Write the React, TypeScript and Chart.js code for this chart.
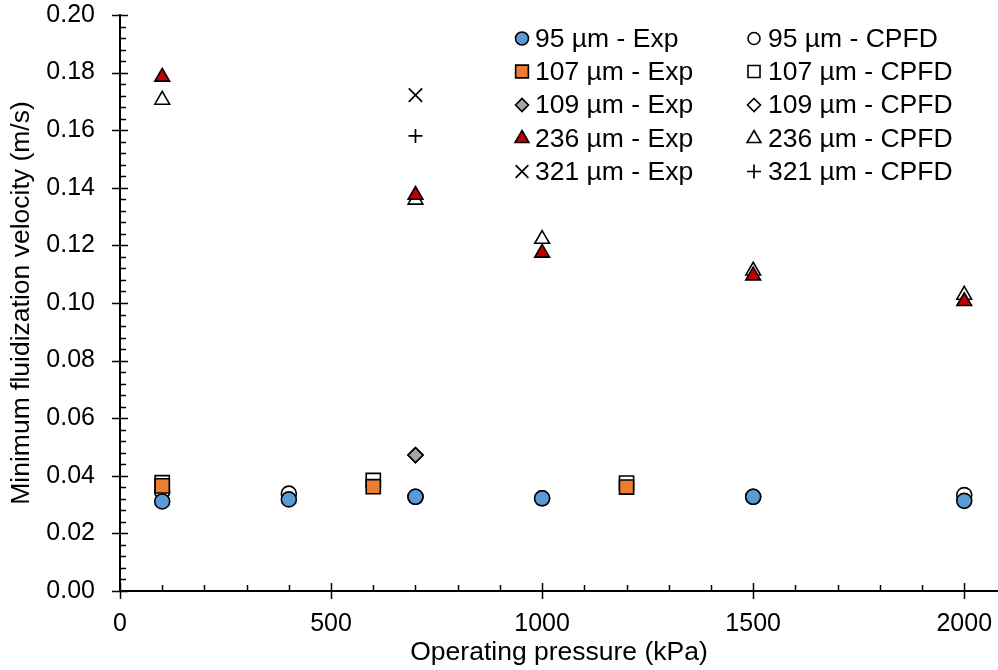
import React, { useEffect, useRef } from 'react';
import { Chart, registerables } from 'chart.js';
import { drawPoint } from 'chart.js/helpers';

Chart.register(...registerables);

// ---- data ----
const pressures95 = [100, 400, 700, 1000, 1500, 2000];
const exp95 = [0.0311, 0.0318, 0.0327, 0.0322, 0.0327, 0.0313];
const cpfd95 = [0.0345, 0.0338, 0.0327, 0.0322, 0.0327, 0.0333];

const pressures107 = [100, 600, 1200];
const exp107 = [0.0365, 0.0362, 0.0361];
const cpfd107 = [0.0376, 0.0384, 0.0375];

const pressures109 = [700];
const exp109 = [0.0472];
const cpfd109 = [0.0472];

const pressures236 = [100, 700, 1000, 1500, 2000];
const exp236 = [0.1785, 0.1375, 0.1174, 0.1095, 0.1006];
const cpfd236 = [0.1705, 0.1358, 0.1222, 0.1112, 0.1028];

const pressures321 = [700];
const exp321 = [0.1722];
const cpfd321 = [0.158];

const xTicks = [0, 500, 1000, 1500, 2000];
const FONT = '"Liberation Sans", Arial, sans-serif';
const FS = 25;
const FT = 26.5;

const toPts = (xs: number[], ys: number[]) => xs.map((x, i) => ({ x, y: ys[i] }));
const zeroPad = () => ({ left: 0, top: 0, right: 0, bottom: 0 });

const legendPlugin = {
  id: 'customLegend',
  afterDatasetsDraw(chart: any) {
    const ctx = chart.ctx;
    const ds = chart.data.datasets;
    const rowY = [38.5, 71.5, 105, 138.5, 171.5];
    const colMarker = [522, 754];
    const colText = [535, 768];
    ctx.save();
    ctx.font = `${FT}px ${FONT}`;
    ctx.textBaseline = 'middle';
    ctx.textAlign = 'left';
    ds.forEach((d: any, i: number) => {
      const col = i % 2;
      const row = Math.floor(i / 2);
      const y = rowY[row];
      ctx.fillStyle = d.pointBackgroundColor;
      ctx.strokeStyle = d.pointBorderColor;
      ctx.lineWidth = d.pointBorderWidth;
      drawPoint(ctx, { pointStyle: d.pointStyle, rotation: 0, borderWidth: d.pointBorderWidth, radius: d.legendRadius }, colMarker[col], y);
      ctx.fillStyle = '#000';
      ctx.fillText(d.label, colText[col], y + 1);
    });
    ctx.restore();
  },
};

const ticksPlugin = {
  id: 'customTicks',
  afterDraw(chart: any) {
    const ctx = chart.ctx;
    const xs = chart.scales.x;
    const ys = chart.scales.y;
    const { left, bottom } = chart.chartArea;
    ctx.save();
    ctx.strokeStyle = '#000';
    ctx.lineWidth = 1.5;
    ctx.beginPath();
    for (let v = 0; v <= 2080; v += 100) {
      const px = Math.round(xs.getPixelForValue(v)) + 0.5;
      if (v % 500 === 0) {
        ctx.moveTo(px, bottom - 8);
        ctx.lineTo(px, bottom + 8);
      } else {
        ctx.moveTo(px, bottom - 6);
        ctx.lineTo(px, bottom);
      }
    }
    for (let k = 0; k <= 50; k++) {
      const v = k * 0.004;
      const py = Math.round(ys.getPixelForValue(v)) + 0.5;
      if (k % 5 === 0) {
        ctx.moveTo(left - 8, py);
        ctx.lineTo(left + 8, py);
      } else {
        ctx.moveTo(left, py);
        ctx.lineTo(left + 6, py);
      }
    }
    ctx.stroke();
    ctx.restore();
  },
};

export default function App() {
  const ref = useRef<HTMLCanvasElement>(null);
  useEffect(() => {
    document.body.style.margin = '0';
    const mk = (label: string, xs: number[], ys: number[], style: string, radius: number, fill: string, bw: number, order: number, legendRadius: number) => ({
      label,
      data: toPts(xs, ys),
      pointStyle: style,
      pointRadius: radius,
      pointHoverRadius: radius,
      pointBackgroundColor: fill,
      pointBorderColor: '#000',
      pointBorderWidth: bw,
      backgroundColor: fill,
      borderColor: '#000',
      showLine: false,
      order,
      legendRadius,
    });
    const chart = new Chart(ref.current!, {
      type: 'scatter',
      data: {
        datasets: [
          mk('95 µm - Exp', pressures95, exp95, 'circle', 7.5, '#5B9BD5', 1.6, 0, 6.5),
          mk('95 µm - CPFD', pressures95, cpfd95, 'circle', 7.5, '#FFFFFF', 1.6, 1, 6),
          mk('107 µm - Exp', pressures107, exp107, 'rect', 10, '#ED7D31', 1.6, 0, 9),
          mk('107 µm - CPFD', pressures107, cpfd107, 'rect', 10, '#FFFFFF', 1.6, 1, 8.5),
          mk('109 µm - Exp', pressures109, exp109, 'rectRot', 7.5, '#A5A5A5', 1.6, 0, 6.5),
          mk('109 µm - CPFD', pressures109, cpfd109, 'rectRot', 7.5, '#FFFFFF', 1.6, 1, 6.5),
          mk('236 µm - Exp', pressures236, exp236, 'triangle', 8.5, '#C00000', 1.6, 0, 8),
          mk('236 µm - CPFD', pressures236, cpfd236, 'triangle', 8.5, '#FFFFFF', 1.6, 1, 8),
          mk('321 µm - Exp', pressures321, exp321, 'crossRot', 9.5, '#000000', 1.7, 0, 9),
          mk('321 µm - CPFD', pressures321, cpfd321, 'cross', 7, '#000000', 1.7, 1, 7),
        ] as any,
      },
      options: {
        animation: false,
        responsive: false,
        maintainAspectRatio: false,
        layout: { autoPadding: false, padding: { top: 15, right: 0, left: 0, bottom: 0 } },
        plugins: { legend: { display: false }, tooltip: { enabled: false } },
        scales: {
          x: {
            type: 'linear',
            min: 0,
            max: 2080,
            afterFit: (s: any) => {
              s.height = 79;
              s.paddingLeft = 0; s.paddingRight = 0; s.paddingTop = 0; s.paddingBottom = 0;
              s.getPadding = zeroPad;
            },
            afterBuildTicks: (s: any) => { s.ticks = xTicks.map((v) => ({ value: v })); },
            ticks: {
              includeBounds: false,
              font: { family: FONT, size: FS },
              color: '#000',
              padding: 10,
              maxRotation: 0,
              callback: (v: any) => String(v),
            },
            grid: { drawOnChartArea: false, drawTicks: true, tickLength: 8, color: 'transparent' },
            border: { display: true, color: '#000', width: 2 },
            title: {
              display: true,
              text: 'Operating pressure (kPa)',
              font: { family: FONT, size: FT },
              color: '#000',
              padding: { top: 0, bottom: 1 },
            },
          },
          y: {
            type: 'linear',
            min: 0,
            max: 0.2,
            afterFit: (s: any) => {
              s.width = 120;
              s.paddingLeft = 0; s.paddingRight = 0; s.paddingTop = 0; s.paddingBottom = 0;
              s.getPadding = zeroPad;
            },
            ticks: {
              stepSize: 0.02,
              font: { family: FONT, size: FS },
              color: '#000',
              padding: 17,
              callback: (v: any) => Number(v).toFixed(2),
            },
            grid: { drawOnChartArea: false, drawTicks: true, tickLength: 8, color: 'transparent' },
            border: { display: true, color: '#000', width: 2 },
            title: {
              display: true,
              text: 'Minimum fluidization velocity (m/s)',
              font: { family: FONT, size: FT },
              color: '#000',
              padding: { top: 6, bottom: 0 },
            },
          },
        },
      },
      plugins: [ticksPlugin, legendPlugin],
    });
    return () => chart.destroy();
  }, []);
  return <canvas ref={ref} width={998} height={670} style={{ display: 'block' }} />;
}
